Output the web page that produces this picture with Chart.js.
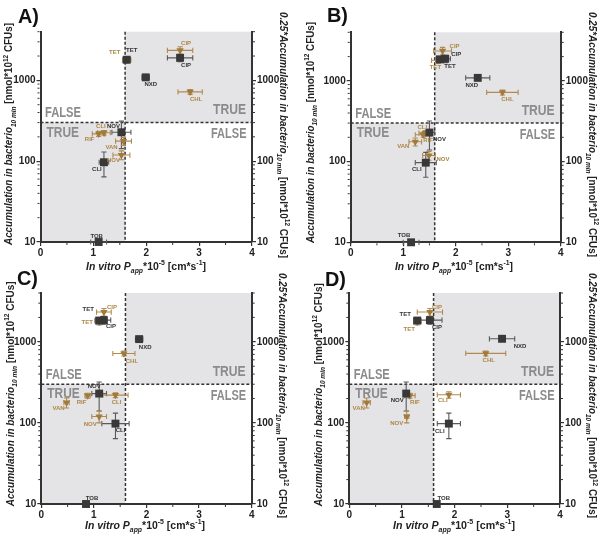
<!DOCTYPE html>
<html><head><meta charset="utf-8">
<script src="https://cdn.jsdelivr.net/npm/chart.js@4.4.1/dist/chart.umd.min.js"></script>
<style>
html,body{margin:0;padding:0;background:#fff}
body{width:600px;height:538px;position:relative;overflow:hidden}
canvas{position:absolute}
</style></head><body>
<canvas id="cA" width="300" height="280" style="left:0;top:0"></canvas>
<canvas id="cB" width="300" height="280" style="left:300px;top:0"></canvas>
<canvas id="cC" width="300" height="270" style="left:0;top:268px"></canvas>
<canvas id="cD" width="300" height="270" style="left:300px;top:268px"></canvas>
<script>
// ---------- data ----------
const blackDrugs = ['TET','CIP','NXD','NOV','CLI','TOB'];
const brownDrugs = ['TET','CIP','CHL','CLI','RIF','VAN','NOV'];
const xTicks = [0,1,2,3,4];
const yTicks = [10,100,1000];
const cutX = 1.6, cutY = 300;

// Panel A
const aBlackX = [1.63, 2.64, 1.99, 1.53, 1.20, 1.10];
const aBlackY = [1800, 1900, 1090, 228, 97, 10];
const aBlackXErr = [0.07, 0.24, 0.07, 0.18, 0.09, 0.15];
const aBlackYErr = [150, 200, 60, 85, 33, 0];
const aBrownX = [1.63, 2.64, 2.83, 1.20, 1.10, 1.57, 1.53];
const aBrownY = [1780, 2350, 720, 225, 218, 177, 119];
const aBrownXErr = [0.08, 0.24, 0.23, 0.12, 0.12, 0.15, 0.16];
const aBrownYErr = [120, 250, 50, 15, 15, 20, 15];

// Panel B
const bBlackX = [1.70, 1.80, 2.42, 1.50, 1.43, 1.15];
const bBlackY = [1850, 1880, 1090, 229, 97, 10];
const bBlackXErr = [0.08, 0.10, 0.23, 0.10, 0.20, 0.15];
const bBlackYErr = [150, 200, 60, 90, 33, 0];
const bBrownX = [1.67, 1.75, 2.89, 1.42, 1.38, 1.23, 1.49];
const bBrownY = [1800, 2350, 720, 225, 215, 176, 119];
const bBrownXErr = [0.13, 0.17, 0.30, 0.12, 0.15, 0.12, 0.12];
const bBrownYErr = [150, 250, 50, 15, 15, 20, 15];

// Panel C
const cBlackX = [1.10, 1.19, 1.86, 1.10, 1.41, 0.85];
const cBlackY = [1830, 1850, 1080, 230, 98, 10];
const cBlackXErr = [0.08, 0.13, 0.07, 0.14, 0.26, 0.05];
const cBlackYErr = [150, 200, 60, 90, 34, 0];
const cBrownX = [1.10, 1.19, 1.57, 1.41, 0.88, 0.48, 1.10];
const cBrownY = [1760, 2330, 718, 220, 217, 178, 120];
const cBrownXErr = [0.06, 0.14, 0.21, 0.24, 0.05, 0.05, 0.14];
const cBrownYErr = [150, 250, 50, 15, 15, 25, 20];

// Panel D
const dBlackX = [1.29, 1.53, 2.90, 1.08, 1.89, 1.66];
const dBlackY = [1830, 1850, 1090, 230, 98, 10];
const dBlackXErr = [0.07, 0.23, 0.24, 0.05, 0.22, 0];
const dBlackYErr = [150, 200, 60, 90, 34, 0];
const dBrownX = [1.29, 1.53, 2.59, 1.89, 1.15, 0.33, 1.09];
const dBrownY = [1760, 2330, 720, 222, 217, 178, 120];
const dBrownXErr = [0.07, 0.24, 0.38, 0.22, 0.10, 0.07, 0.04];
const dBrownYErr = [150, 250, 50, 20, 15, 25, 20];

// ---------- styling / label placement (pixel offsets) ----------
const labelOffA = {black:[[5,-9],[6,8],[5,7],[-8,-6],[-7,7],[-2,-6]], brown:[[-12,-8],[6,-7],[6,7],[-3,-6],[-9,6],[-12,6],[-8,5]]};
const labelOffB = {black:[[10,7],[11,-4],[-6,7],[10,7],[-9,7],[-7,-7]], brown:[[-3,7],[12,-5],[5,7],[-3,-6],[5,6],[-12,5],[14,4]]};
const labelOffC = {black:[[-11,-11],[7,6],[6,8],[-5,-7],[5,7],[6,-6]], brown:[[-12,0],[8,-5],[8,8],[1,7],[-6,7],[-8,6],[-9,8]]};
const labelOffD = {black:[[-12,-6],[7,7],[18,8],[-9,7],[-9,8],[7,-6]], brown:[[-8,7],[7,-5],[3,7],[-6,6],[5,7],[-8,6],[-10,7]]};

const SHADE = '#e4e3e6';
const DARK = '#333333';
const SQUARE = '#383838';
const BROWN = '#a27a3a';
const BROWN_LBL = '#ad8747';
const BROWN_ERR = '#b08b50';
const BLACK_ERR = '#5a5a5a';
const TF_GREY = '#8b8b8b';
const FAM = '"Liberation Sans", Arial, sans-serif';
const TICKFONT = {family:'"Liberation Sans Narrow","Liberation Sans",Arial,sans-serif', size:10, weight:'bold'};

const leftTitle = [{t:'Accumulation in bacterio',it:1},{t:'10 min',it:1,sub:1},{t:' [nmol*10'},{t:'12',sup:1},{t:' CFUs]'}];
const rightTitle = [{t:'0.25*Accumulation in bacterio',it:1},{t:'10 min',it:1,sub:1},{t:' [nmol*10'},{t:'12',sup:1},{t:' CFUs]'}];
const xTitle = [{t:'In vitro P',it:1},{t:'app',it:1,sub:1},{t:'*10'},{t:'-5',sup:1},{t:' [cm*s'},{t:'-1',sup:1},{t:']'}];

function fontOf(s, size){
  const sz = (s.sub||s.sup) ? size*0.66 : size;
  return (s.it?'italic ':'')+'bold '+sz.toFixed(2)+'px '+FAM;
}
function drawRich(ctx, segs, px, py, rot, size, len, align, color, mid){
  ctx.save();
  ctx.translate(px, py); ctx.rotate(rot);
  ctx.textBaseline = 'alphabetic'; ctx.textAlign = 'left';
  let w = 0;
  const ws = segs.map(s => { ctx.font = fontOf(s,size); const m = ctx.measureText(s.t).width; w += m; return m; });
  const k = len ? len / w : 1;
  ctx.scale(k, 1);
  let x0 = align === 'left' ? 0 : (align === 'right' ? -w : -w/2);
  const base = mid ? size*0.36 : 0;
  ctx.fillStyle = color;
  segs.forEach((s,i) => {
    ctx.font = fontOf(s,size);
    const dy = s.sub ? size*0.28 : (s.sup ? -size*0.42 : 0);
    ctx.fillText(s.t, x0, base+dy);
    x0 += ws[i];
  });
  ctx.restore();
}

function drawErr(ctx, xs, ys, xe, ye, sx, sy, color){
  ctx.strokeStyle = color; ctx.lineWidth = 1.1; ctx.setLineDash([]);
  const cap = 2.6;
  for (let i=0;i<xs.length;i++){
    const px = sx.getPixelForValue(xs[i]), py = sy.getPixelForValue(ys[i]);
    ctx.beginPath();
    if (xe[i] > 0){
      const l = sx.getPixelForValue(xs[i]-xe[i]), r = sx.getPixelForValue(xs[i]+xe[i]);
      ctx.moveTo(l,py); ctx.lineTo(r,py);
      ctx.moveTo(l,py-cap); ctx.lineTo(l,py+cap);
      ctx.moveTo(r,py-cap); ctx.lineTo(r,py+cap);
    }
    if (ye[i] > 0){
      const t = sy.getPixelForValue(ys[i]+ye[i]), b = sy.getPixelForValue(Math.max(ys[i]-ye[i],1e-6));
      ctx.moveTo(px,t); ctx.lineTo(px,b);
      ctx.moveTo(px-cap,t); ctx.lineTo(px+cap,t);
      ctx.moveTo(px-cap,b); ctx.lineTo(px+cap,b);
    }
    ctx.stroke();
  }
}

function makePlugin(cfg){
  return {
    id: 'panel'+cfg.letter,
    beforeDraw(chart){
      const {ctx, chartArea: ca, scales} = chart;
      const xc = scales.x.getPixelForValue(cutX), yc = scales.y.getPixelForValue(cutY);
      ctx.save();
      ctx.fillStyle = SHADE;
      ctx.fillRect(ca.left, yc, xc-ca.left, ca.bottom-yc);
      ctx.fillRect(xc, ca.top, ca.right-xc, yc-ca.top);
      drawRich(ctx,[{t:'FALSE'}], ca.left+4.5, yc-5.2, 0, 14, 36, 'left', TF_GREY);
      drawRich(ctx,[{t:'TRUE'}], ca.left+6, yc+14, 0, 14, 32.5, 'left', TF_GREY);
      drawRich(ctx,[{t:'TRUE'}], ca.right-6, yc-8.5, 0, 14, 33, 'right', TF_GREY);
      drawRich(ctx,[{t:'FALSE'}], ca.right-5.5, yc+15.5, 0, 14, 35.5, 'right', TF_GREY);
      ctx.restore();
    },
    beforeDatasetsDraw(chart){
      const {ctx, chartArea: ca, scales} = chart;
      const xc = scales.x.getPixelForValue(cutX), yc = scales.y.getPixelForValue(cutY);
      ctx.save();
      ctx.strokeStyle = DARK; ctx.lineWidth = 1.5; ctx.setLineDash([3,2]);
      ctx.beginPath(); ctx.moveTo(xc, ca.top); ctx.lineTo(xc, ca.bottom); ctx.stroke();
      ctx.beginPath(); ctx.moveTo(ca.left, yc); ctx.lineTo(ca.right, yc); ctx.stroke();
      ctx.setLineDash([]);
      // minor ticks
      ctx.lineWidth = 1; ctx.strokeStyle = DARK;
      ctx.beginPath();
      [20,30,40,50,60,70,80,90,200,300,400,500,600,700,800,900,2000,3000,4000].forEach(v=>{
        const p = scales.y.getPixelForValue(v);
        ctx.moveTo(ca.left-1, p); ctx.lineTo(ca.left-3, p);
        ctx.moveTo(ca.right+1, p); ctx.lineTo(ca.right+3, p);
      });
      [0.5,1.5,2.5,3.5].forEach(v=>{
        const p = scales.x.getPixelForValue(v);
        ctx.moveTo(p, ca.bottom+1); ctx.lineTo(p, ca.bottom+3);
      });
      ctx.stroke();
      drawErr(ctx, cfg.bx, cfg.by, cfg.bxe, cfg.bye, scales.x, scales.y, BLACK_ERR);
      drawErr(ctx, cfg.rx, cfg.ry, cfg.rxe, cfg.rye, scales.x, scales.y2, BROWN_ERR);
      ctx.restore();
    },
    afterDatasetsDraw(chart){
      const {ctx, scales} = chart;
      ctx.save();
      ctx.font = 'bold 6px '+FAM; ctx.textAlign='center'; ctx.textBaseline='middle';
      ctx.fillStyle = DARK;
      blackDrugs.forEach((n,i)=>{
        const px = scales.x.getPixelForValue(cfg.bx[i]), py = scales.y.getPixelForValue(cfg.by[i]);
        ctx.fillText(n, px+cfg.off.black[i][0], py+cfg.off.black[i][1]);
      });
      ctx.fillStyle = BROWN_LBL;
      brownDrugs.forEach((n,i)=>{
        const px = scales.x.getPixelForValue(cfg.rx[i]), py = scales.y2.getPixelForValue(cfg.ry[i]);
        ctx.fillText(n, px+cfg.off.brown[i][0], py+cfg.off.brown[i][1]);
      });
      ctx.restore();
    },
    afterDraw(chart){
      const {ctx} = chart;
      drawRich(ctx,[{t:cfg.letter+')'}], cfg.letX, cfg.letY, 0, 21, 21, 'left', '#111');
      drawRich(ctx, leftTitle, cfg.lt[0], cfg.lt[1], -Math.PI/2, 11, cfg.lt[2], 'center', '#222', true);
      drawRich(ctx, rightTitle, cfg.rt[0], cfg.rt[1], Math.PI/2, 11, cfg.rt[2], 'center', '#222', true);
      drawRich(ctx, xTitle, cfg.xt[0], cfg.xt[1], 0, 11, cfg.xt[2], 'center', '#222', true);
    }
  };
}

function yScale(pos){
  return {
    type:'logarithmic', position:pos, min:10, max:4000,
    afterBuildTicks: s => { s.ticks = yTicks.map(v=>({value:v})); },
    ticks:{font:TICKFONT, color:'#222', padding:1, callback: v => String(v)},
    grid:{display:true, drawOnChartArea:false, drawTicks:true, tickLength:4, color:DARK, lineWidth:1.2},
    border:{display:true, color:DARK, width:2},
    afterFit: s => { s.width = 30; }
  };
}

function buildChart(cfg){
  const canvas = document.getElementById(cfg.id);
  const blackData = cfg.bx.map((v,i)=>({x:v, y:cfg.by[i]}));
  const brownData = cfg.rx.map((v,i)=>({x:v, y:cfg.ry[i]}));
  new Chart(canvas, {
    type:'scatter',
    data:{datasets:[
      {label:'Accumulation in bacterio 10 min', data:blackData, yAxisID:'y', pointStyle:'rect', pointRadius:5.6,
       pointBackgroundColor:SQUARE, pointBorderColor:SQUARE, pointBorderWidth:0, clip:false},
      {label:'0.25*Accumulation in bacterio 10 min', data:brownData, yAxisID:'y2', pointStyle:'triangle', pointRotation:180, pointRadius:4.2,
       pointBackgroundColor:BROWN, pointBorderColor:BROWN, pointBorderWidth:0, clip:false}
    ]},
    options:{
      responsive:false, animation:false, devicePixelRatio:1,
      layout:{padding:{left:cfg.L-30, right:300-cfg.R-30, top:cfg.T, bottom:cfg.H-cfg.B-20}},
      plugins:{legend:{display:false}, tooltip:{enabled:false}},
      scales:{
        x:{type:'linear', min:0, max:4,
           afterBuildTicks: s => { s.ticks = xTicks.map(v=>({value:v})); },
           ticks:{font:TICKFONT, color:'#222', padding:1, maxRotation:0, callback: v => String(v)},
           grid:{display:true, drawOnChartArea:false, drawTicks:true, tickLength:4, color:DARK, lineWidth:1.2},
           border:{display:true, color:DARK, width:2},
           afterFit: s => { s.height = 20; }},
        y: yScale('left'),
        y2: yScale('right')
      }
    },
    plugins:[makePlugin(cfg)]
  });
}

buildChart({id:'cA', letter:'A', H:280, L:40.5, R:252, T:31.7, B:242,
  bx:aBlackX, by:aBlackY, bxe:aBlackXErr, bye:aBlackYErr, rx:aBrownX, ry:aBrownY, rxe:aBrownXErr, rye:aBrownYErr, off:labelOffA,
  letX:18, letY:23, lt:[8.5,134,222], rt:[284,135,246], xt:[146,266,120]});
buildChart({id:'cB', letter:'B', H:280, L:50.7, R:260.7, T:32.3, B:242.3,
  bx:bBlackX, by:bBlackY, bxe:bBlackXErr, bye:bBlackYErr, rx:bBrownX, ry:bBrownY, rxe:bBrownXErr, rye:bBrownYErr, off:labelOffB,
  letX:27, letY:22, lt:[10,132.5,221], rt:[293,134.5,245], xt:[154,266,118]});
buildChart({id:'cC', letter:'C', H:270, L:41.3, R:251.7, T:25, B:236,
  bx:cBlackX, by:cBlackY, bxe:cBlackXErr, bye:cBlackYErr, rx:cBrownX, ry:cBrownY, rxe:cBrownXErr, rye:cBrownYErr, off:labelOffC,
  letX:17, letY:17, lt:[10,125.8,225], rt:[283,127.5,245], xt:[145,256.7,120]});
buildChart({id:'cD', letter:'D', H:270, L:49.3, R:260, T:25, B:236,
  bx:dBlackX, by:dBlackY, bxe:dBlackXErr, bye:dBlackYErr, rx:dBrownX, ry:dBrownY, rxe:dBrownXErr, rye:dBrownYErr, off:labelOffD,
  letX:25, letY:18, lt:[18,126.7,223], rt:[292.7,127.5,245], xt:[154,256.7,122]});
</script>
</body></html>
